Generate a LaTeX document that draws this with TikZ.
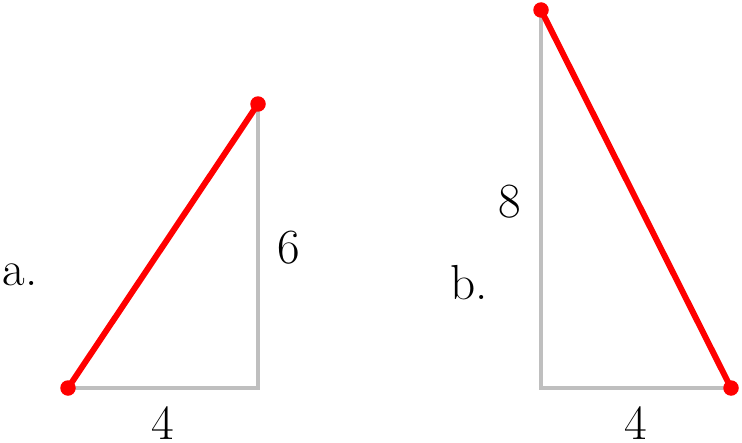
\documentclass[tikz,border=0pt]{standalone}
\begin{document}
\begin{tikzpicture}[x=0.02cm,y=-0.02cm,
  leg/.style={draw=lightgray,line width=2.3pt},
  hyp/.style={draw=red,line width=3.4pt},
  dot/.style={circle,fill=red,inner sep=0pt,minimum size=0.31cm},
  lbl/.style={inner sep=0pt,font=\fontsize{28}{30}\selectfont}]
\useasboundingbox (0,0) rectangle (742,442);
% triangle a
\coordinate (aL) at (68,388);
\coordinate (aR) at (258,388);
\coordinate (aT) at (258,104);
\draw[leg] (aL) -- (aR) -- (aT);
\draw[hyp] (aL) -- (aT);
\node[dot] (aLd) at (aL) {};
\node[dot] (aTd) at (aT) {};
% triangle b
\coordinate (bT) at (541,10);
\coordinate (bC) at (541,388);
\coordinate (bR) at (731,388);
\draw[leg] (bT) -- (bC) -- (bR);
\draw[hyp] (bT) -- (bR);
\node[dot] (bTd) at (bT) {};
\node[dot] (bRd) at (bR) {};
% labels
\node[lbl] (la) at (20,275) {a.};
\node[lbl] (l6) at (289,248) {6};
\node[lbl] (l4a) at (163,423) {4};
\node[lbl] (l8) at (510,202) {8};
\node[lbl] (lb) at (469,283) {b.};
\node[lbl] (l4b) at (636,423) {4};
\end{tikzpicture}
\end{document}
